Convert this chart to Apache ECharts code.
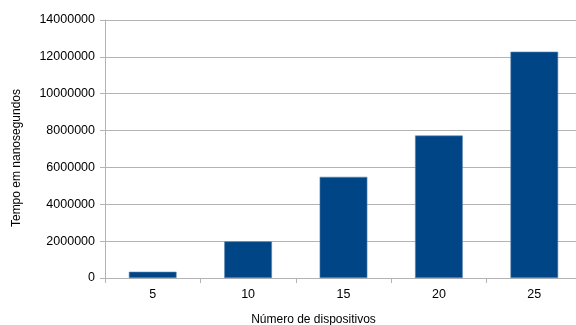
<!DOCTYPE html>
<html>
<head>
<meta charset="utf-8">
<script src="https://cdn.jsdelivr.net/npm/echarts@6/dist/echarts.min.js"></script>
<style>
html,body{margin:0;padding:0;background:#fff;}
#c{width:576px;height:325px;}
</style>
</head>
<body>
<div id="c"></div>
<script>
var categories = ['5', '10', '15', '20', '25'];
var values = [340000, 1990000, 5490000, 7730000, 12280000];
var yTicks = { min: 0, max: 14000000, interval: 2000000 };
var xTitle = 'Número de dispositivos';
var yTitle = 'Tempo em nanosegundos';

var chart = echarts.init(document.getElementById('c'), null, { renderer: 'canvas' });
var font = 'Liberation Sans, Arial, sans-serif';
chart.setOption({
  animation: false,
  grid: { left: 105, top: 20, width: 477, height: 258, containLabel: false, outerBoundsMode: 'none' },
  xAxis: {
    type: 'category',
    data: categories,
    name: xTitle,
    nameLocation: 'middle',
    nameGap: 36,
    nameTextStyle: { fontFamily: font, fontSize: 12, color: '#000', padding: [0, 60, 0, 0] },
    axisLine: { show: true, lineStyle: { color: '#b3b3b3', width: 1 } },
    axisTick: { show: true, alignWithLabel: false, length: 5, lineStyle: { color: '#b3b3b3' } },
    axisLabel: { fontFamily: font, fontSize: 12.5, color: '#000', margin: 10 },
    splitLine: { show: false }
  },
  yAxis: {
    type: 'value',
    min: yTicks.min,
    max: yTicks.max,
    interval: yTicks.interval,
    name: yTitle,
    nameLocation: 'middle',
    nameGap: 82,
    nameRotate: 90,
    nameTextStyle: { fontFamily: font, fontSize: 12, color: '#000', padding: [0, 18, 0, 0] },
    axisLine: { show: true, lineStyle: { color: '#b3b3b3', width: 1 } },
    axisTick: { show: true, length: 5, lineStyle: { color: '#b3b3b3' } },
    axisLabel: { fontFamily: font, fontSize: 12.5, color: '#000', margin: 10, formatter: function (v) { return String(v); } },
    splitLine: { show: true, lineStyle: { color: '#b3b3b3', width: 1 } }
  },
  series: [{
    type: 'bar',
    data: values,
    barWidth: '50%',
    itemStyle: { color: '#004586', borderColor: '#5a86b3', borderWidth: 0.6 }
  }]
});
</script>
</body>
</html>
